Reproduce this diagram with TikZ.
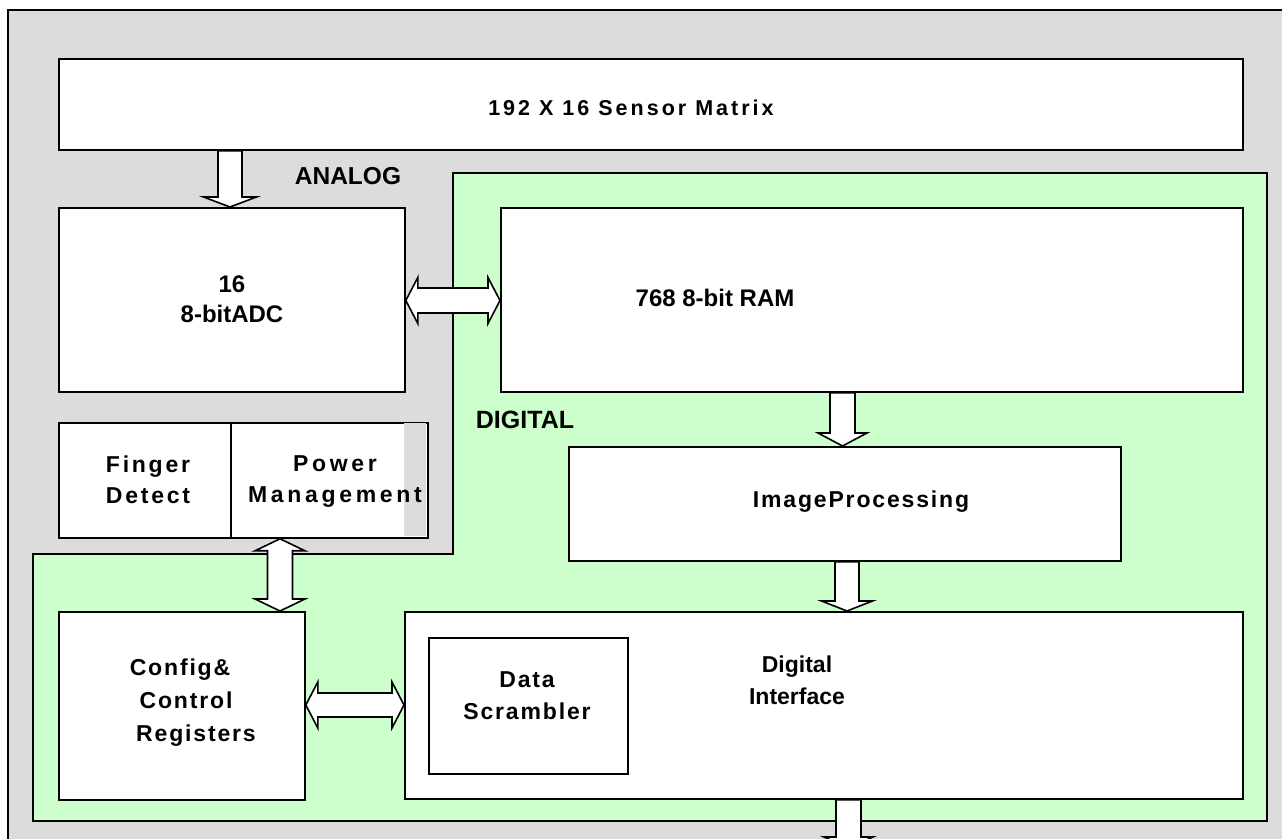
\documentclass[tikz,border=0pt]{standalone}
\usepackage{fontspec}
\setmainfont{Liberation Sans}
\newfontfamily\plainfont{Liberation Sans}
\newfontfamily\widefont[LetterSpace=12]{Liberation Sans}
\newfontfamily\widerfont[LetterSpace=16]{Liberation Sans}
\newfontfamily\midfont[LetterSpace=8]{Liberation Sans}
\newfontfamily\sensorfont[LetterSpace=14]{Liberation Sans}
\usetikzlibrary{calc}

\definecolor{chipgray}{HTML}{DCDCDC}
\definecolor{diggreen}{HTML}{CCFFCC}

\tikzset{
  frame/.style={draw=black, line width=1.8pt},
  box/.style={draw=black, line width=1.8pt, fill=white, inner sep=0pt, anchor=north west},
  blk/.style={draw=black, line width=1.6pt, fill=white, line join=miter},
  txt/.style={font=\bfseries, align=center, inner sep=0pt, text=black},
}

% rectangular block from its top-left and bottom-right corners (y measured downwards)
\newcommand\mkbox[5]{%
  \node[box, minimum width={#4pt-#2pt}, minimum height={#5pt-#3pt}]
    (#1) at (#2,{838-#3}) {};}

% one-way block arrow pointing down: upper anchor, lower anchor, x centre,
% shaft half-width, head half-width, head length
\newcommand\arrdown[6]{%
  \draw[blk] let \p1=(#1), \p2=(#2) in
    ({#3pt-#4pt},\y1) -- ({#3pt-#4pt},{\y2+#6pt}) -- ({#3pt-#5pt},{\y2+#6pt})
    -- (#3pt,\y2) -- ({#3pt+#5pt},{\y2+#6pt}) -- ({#3pt+#4pt},{\y2+#6pt})
    -- ({#3pt+#4pt},\y1) -- cycle;}

% two-way vertical block arrow
\newcommand\arrvert[6]{%
  \draw[blk] let \p1=(#1), \p2=(#2) in
    (#3pt,\y1) -- ({#3pt+#5pt},{\y1-#6pt}) -- ({#3pt+#4pt},{\y1-#6pt})
    -- ({#3pt+#4pt},{\y2+#6pt}) -- ({#3pt+#5pt},{\y2+#6pt}) -- (#3pt,\y2)
    -- ({#3pt-#5pt},{\y2+#6pt}) -- ({#3pt-#4pt},{\y2+#6pt})
    -- ({#3pt-#4pt},{\y1-#6pt}) -- ({#3pt-#5pt},{\y1-#6pt}) -- cycle;}

% two-way horizontal block arrow: left anchor, right anchor, y centre (downwards), ...
\newcommand\arrhorz[6]{%
  \draw[blk] let \p1=(#1), \p2=(#2), \n1={(838-#3)*1pt} in
    (\x1,\n1) -- ({\x1+#6pt},{\n1+#5pt}) -- ({\x1+#6pt},{\n1+#4pt})
    -- ({\x2-#6pt},{\n1+#4pt}) -- ({\x2-#6pt},{\n1+#5pt}) -- (\x2,\n1)
    -- ({\x2-#6pt},{\n1-#5pt}) -- ({\x2-#6pt},{\n1-#4pt})
    -- ({\x1+#6pt},{\n1-#4pt}) -- ({\x1+#6pt},{\n1-#5pt}) -- cycle;}

\begin{document}
\begin{tikzpicture}[x=1pt, y=1pt]
  \useasboundingbox (0,0) rectangle (1282,838);
  \fill[white] (0,0) rectangle (1282,838);
  \clip (0,0) rectangle (1282,838);

  % chip outline (analog area)
  \draw[frame, fill=chipgray] (8,828) rectangle (1300,-30);

  % digital area
  \draw[frame, fill=diggreen]
    (453,665) -- (1267,665) -- (1267,17) -- (33,17) -- (33,284) -- (453,284) -- cycle;

  % blocks
  \mkbox{sensor}{58}{58}{1242}{149}
  \mkbox{adc}{58}{207}{404}{391}
  \mkbox{ram}{500}{207}{1242}{391}
  \mkbox{finger}{58}{422}{230}{537}
  \mkbox{power}{230}{422}{427}{537}
  % unfilled strip along the right side of the power block
  \fill[chipgray] (403.5,{838-422.9}) rectangle (426.1,{838-536.1});
  \mkbox{imgproc}{568}{446}{1120}{560}
  \mkbox{config}{58}{611}{304}{799}
  \mkbox{digif}{404}{611}{1242}{798}
  \mkbox{scrambler}{428}{637}{627}{773}
  \coordinate (out) at (848.5,-10);

  % data paths
  \arrdown{sensor.south}{adc.north}{230}{12}{26.5}{10}
  \arrhorz{adc.east}{ram.west}{300.5}{12.5}{23}{12}
  \arrdown{ram.south}{imgproc.north}{842.5}{12.5}{24.5}{13}
  \arrvert{power.south}{config.north}{280}{12.5}{25}{12}
  \arrdown{imgproc.south}{digif.north}{847}{12}{25.5}{10}
  \arrhorz{config.east}{digif.west}{705}{12}{23}{12}
  \arrdown{digif.south}{out}{848.5}{12.5}{24.5}{11}

  % labels
  \node[txt, font=\sensorfont\bfseries\fontsize{21.5}{26}\selectfont] (tsensor) at (631,{838-108}) {192 X 16 Sensor Matrix};
  \node[txt, font=\plainfont\bfseries\fontsize{24.5}{30}\selectfont] (tanalog) at (348,{838-176}) {ANALOG};
  \node[txt, font=\plainfont\bfseries\fontsize{24}{30}\selectfont] (tadc) at (232,{838-299}) {16\\8-bitADC};
  \node[txt, font=\plainfont\bfseries\fontsize{24}{30}\selectfont] (tram) at (715,{838-298}) {768 8-bit RAM};
  \node[txt, font=\plainfont\bfseries\fontsize{25}{30}\selectfont] (tdigital) at (525,{838-420}) {DIGITAL};
  \node[txt, font=\midfont\bfseries\fontsize{23}{30}\selectfont] (timg) at (861,{838-502}) {ImageProcessing};
  \node[txt, font=\widefont\bfseries\fontsize{23}{31}\selectfont] (tfinger) at (148,{838-480}) {Finger\\Detect};
  \node[txt, font=\widerfont\bfseries\fontsize{23}{31}\selectfont] (tpower) at (335,{838-482}) {Power\\Management};
  \node[txt, anchor=base, font=\midfont\bfseries\fontsize{23}{33}\selectfont] (tconfigA) at (180,{838-676}) {Config\&};
  \node[txt, anchor=base, font=\midfont\bfseries\fontsize{23}{33}\selectfont] (tconfigB) at (186,{838-709}) {Control};
  \node[txt, anchor=base, font=\midfont\bfseries\fontsize{23}{33}\selectfont] (tconfigC) at (196,{838-742}) {Registers};
  \node[txt, font=\midfont\bfseries\fontsize{23}{32}\selectfont] (tscr) at (527,{838-696}) {Data\\Scrambler};
  \node[txt, font=\plainfont\bfseries\fontsize{23}{32}\selectfont] (tdig) at (797,{838-680}) {Digital\\Interface};
\end{tikzpicture}
\end{document}
